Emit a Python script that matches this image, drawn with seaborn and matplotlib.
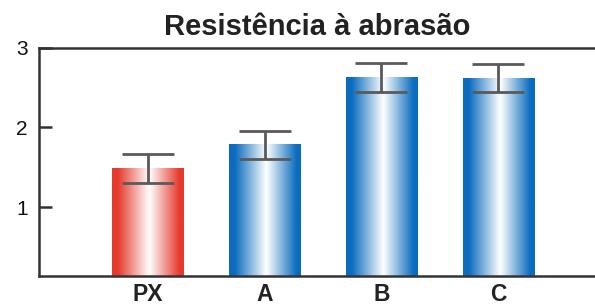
import numpy as np
import pandas as pd
import matplotlib
matplotlib.use("Agg")
import matplotlib.pyplot as plt
import seaborn as sns
from matplotlib.colors import LinearSegmentedColormap

# ── 数据 ──────────────────────────────────────────────
categories = ["PX", "A", "B", "C"]
values = [1.48, 1.78, 2.63, 2.62]
errors = [0.18, 0.18, 0.18, 0.18]
bar_colors = ["#e63a2e", "#0b6cbf", "#0b6cbf", "#0b6cbf"]

sns.set_theme(style="white")
plt.rcParams["font.family"] = ["Liberation Sans", "DejaVu Sans"]

df = pd.DataFrame({"cat": categories, "val": values})

fig = plt.figure(figsize=(5.95, 3.08), dpi=100)
ax = fig.add_axes([0.0655, 0.104, 0.9345, 0.741])

sns.barplot(data=df, x="cat", y="val", hue="cat", palette=bar_colors,
            legend=False, width=0.61, ax=ax, errorbar=None, zorder=2)

# 圆柱形渐变效果
grad = np.linspace(0, 1, 256).reshape(1, -1)
for patch, color in zip(ax.patches, bar_colors):
    x0, y0 = patch.get_x(), patch.get_y()
    w, h = patch.get_width(), patch.get_height()
    cmap = LinearSegmentedColormap.from_list(
        "g", [(0, color), (0.08, color), (0.52, "white"), (0.94, color), (1, color)])
    ax.imshow(grad, cmap=cmap, extent=[x0, x0 + w, y0, y0 + h],
              aspect="auto", zorder=2.5, interpolation="bicubic")

ax.errorbar(np.arange(len(categories)), values, yerr=errors, fmt="none",
            ecolor="#5a5a5a", elinewidth=2, capsize=19, capthick=2, zorder=3)

ax.set_xlim(-0.934, 3.83)
ax.set_ylim(0.134, 3)
ax.set_yticks([1, 2, 3])
ax.set_xlabel("")
ax.set_ylabel("")
ax.set_title("Resistência à abrasão", fontsize=21, fontweight="bold",
             color="#222222", pad=9)

for side in ["left", "bottom", "top"]:
    ax.spines[side].set_linewidth(1.8)
    ax.spines[side].set_color("#333333")
ax.spines["right"].set_visible(False)

ax.tick_params(axis="y", direction="in", length=9, width=1.8,
               color="#333333", labelsize=15, pad=8, left=True)
ax.tick_params(axis="x", length=0, labelsize=16.5, pad=5)
for lbl in ax.get_xticklabels():
    lbl.set_fontweight("bold")
    lbl.set_color("#222222")
for lbl in ax.get_yticklabels():
    lbl.set_color("#111111")

fig.savefig("out.png", dpi=100, facecolor="white")
